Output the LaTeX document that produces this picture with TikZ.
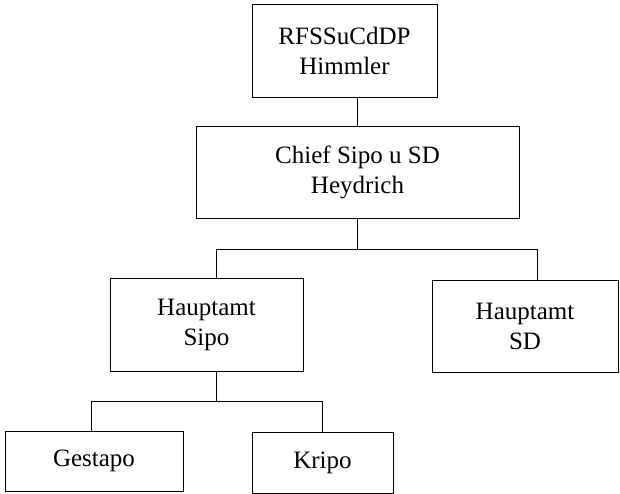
\documentclass[tikz,border=0pt]{standalone}
\usepackage{fontspec}
\setmainfont{Liberation Serif}
\begin{document}
\begin{tikzpicture}[x=1pt,y=1pt,yscale=-1,
  unit/.style={draw, line width=0.8pt, inner sep=0pt, align=center, font=\fontsize{25}{30}\selectfont},
  link/.style={line width=0.8pt}]
\useasboundingbox (0,0) rectangle (620,494);

% Boxes
\node [unit, minimum width=185, minimum height=93] (rfss) at (344.5,50.5) {RFSSuCdDP\\Himmler};
\node [unit, minimum width=323, minimum height=92] (chief) at (357.5,172) {Chief Sipo u SD\\Heydrich};
\node [unit, minimum width=193, minimum height=93] (sipo) at (206.5,324.5) {Hauptamt\\Sipo};
\node [unit, minimum width=186, minimum height=92] (sd) at (525,326) {Hauptamt\\SD};
\node [unit, minimum width=178, minimum height=60] (gestapo) at (94,461) {Gestapo};
\node [unit, minimum width=141, minimum height=61] (kripo) at (322.5,462.5) {Kripo};

% Connectors
\draw [link] (chief.north) -- (chief.north |- rfss.south);
\draw [link] (chief.south) -- ++(0,31) coordinate (fork1);
\draw [link] ([xshift=9.5]sipo.north) |- (fork1) -| ([xshift=12]sd.north);
\draw [link] ([xshift=9.5]sipo.south) -- ++(0,30) coordinate (fork2);
\draw [link] ([xshift=-3]gestapo.north) |- (fork2) -| (kripo.north);

\end{tikzpicture}
\end{document}
